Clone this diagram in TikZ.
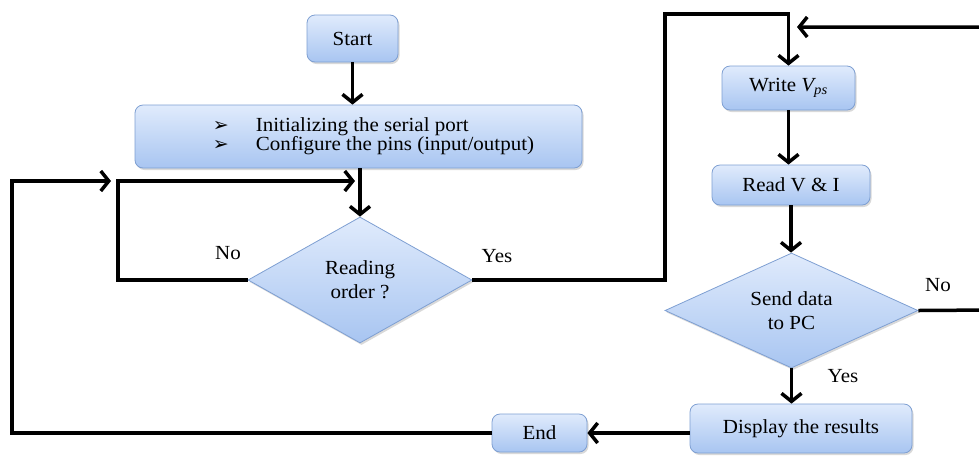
\documentclass[tikz,border=0pt]{standalone}
\usepackage{fontspec}
\setmainfont[FakeStretch=1.05]{Liberation Serif}
\newfontfamily\symfont{DejaVu Sans}
\usetikzlibrary{arrows.meta,shapes.geometric,shadows}
\definecolor{boxtop}{HTML}{E0EBFC}
\definecolor{boxbot}{HTML}{A8C5F1}
\definecolor{boxline}{HTML}{7E9FD2}
\begin{document}
\begin{tikzpicture}[x=1pt,y=-1pt,
  base/.style={draw=boxline, line width=0.8pt, top color=boxtop, bottom color=boxbot,
    drop shadow={opacity=0.3,shadow xshift=1.5pt,shadow yshift=-2pt},
    font=\fontsize{20}{24}\selectfont, inner sep=0pt, align=center},
  box/.style={base, rectangle, rounded corners=8pt},
  decision/.style={base, diamond, aspect=2},
  arr/.style={line width=3.5pt, -{Straight Barb[length=8pt,width=20pt]}},
  lbl/.style={font=\fontsize{20}{24}\selectfont, inner sep=0pt}]
\useasboundingbox (0,0) rectangle (979,459);

\node[box, minimum width=91pt, minimum height=47pt] (start) at (352.5,38.5) {Start};
\node[box, minimum width=447pt, minimum height=63pt] (init) at (358.5,136.5)
  {\hspace{30pt}\fontsize{20}{18}\selectfont\begin{tabular}{@{}l@{\hspace{27pt}}l@{}}
   {\symfont\fontsize{19}{18}\selectfont ➢} & Initializing the serial port\\
   {\symfont\fontsize{19}{18}\selectfont ➢} & Configure the pins (input/output)
   \end{tabular}};
\node[decision, minimum width=224pt, minimum height=126pt] (ro) at (360,280) {Reading\\order ?};
\node[box, minimum width=133pt, minimum height=44pt] (write) at (788.5,88)
  {Write {\itshape V\textsubscript{ps}}};
\node[box, minimum width=158pt, minimum height=40pt] (readvi) at (791,185) {Read V \& I};
\node[decision, minimum width=253pt, minimum height=115pt] (send) at (791.5,310.5) {Send data\\to PC};
\node[box, minimum width=222pt, minimum height=49pt] (display) at (801,428.5) {Display the results};
\node[box, minimum width=95pt, minimum height=38pt] (end) at (539.5,433) {End};

\node[lbl] (no1) at (228,253) {No};
\node[lbl] (yes1) at (497,256) {Yes};
\node[lbl] (no2) at (938,285) {No};
\node[lbl] (yes2) at (843,376) {Yes};

\coordinate (loopL) at (118,181);
\coordinate (loopE) at (355,181);
\coordinate (outerL) at (12,181);
\coordinate (outerE) at (111,181);
\coordinate (yA) at (665,14);
\coordinate (nR) at (992,310);
\coordinate (nT) at (992,27);
\coordinate (nE) at (797,27);

\draw[arr] (start.south) -- (start.south |- init.north);
\draw[arr] (ro.north |- init.south) -- (ro.north);
\draw[arr] (ro.west) -| (loopL) -- (loopE);
\draw[arr] (end.west) -| (outerL) -- (outerE);
\draw[arr] (ro.east) -| (yA) -| (write.north);
\draw[arr] (write.south) -- (write.south |- readvi.north);
\draw[arr] (readvi.south) -- (readvi.south |- send.north);
\draw[arr] (send.east) -- (nR) -- (nT) -- (nE);
\draw[arr] (send.south) -- (send.south |- display.north);
\draw[arr] (display.west |- end.east) -- (end.east);
\end{tikzpicture}
\end{document}
